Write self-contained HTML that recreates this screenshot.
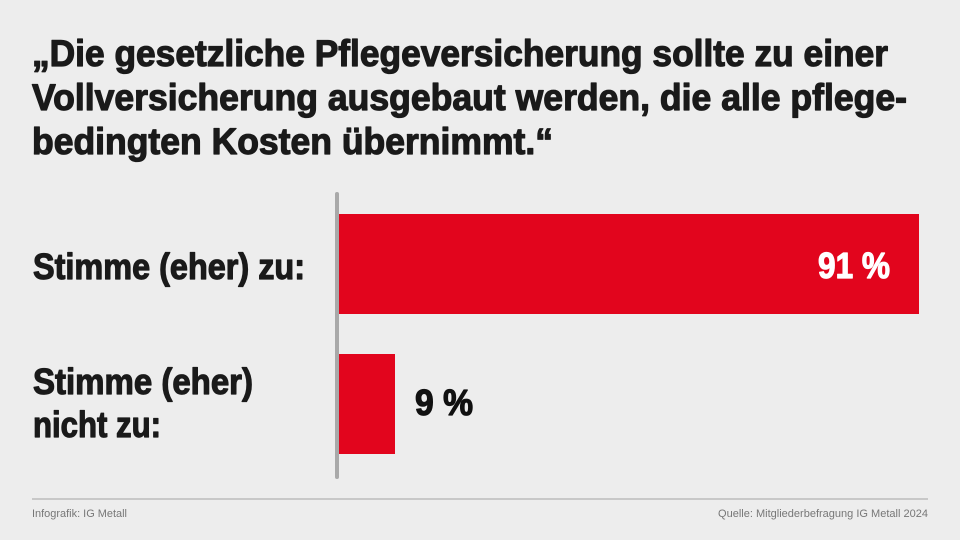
<!DOCTYPE html>
<html><head><meta charset="utf-8"><style>
html,body{margin:0;padding:0;background:#ededed;}
svg{display:block}
.t{font-family:"Liberation Sans Narrow","Liberation Sans",sans-serif;font-weight:bold;fill:#1a1a1a;stroke:#1a1a1a;stroke-width:1.2px;stroke-linejoin:round}
.f{font-family:"Liberation Sans Narrow","Liberation Sans",sans-serif;fill:#777;font-size:11px}
</style></head><body>
<svg width="960" height="540" viewBox="0 0 960 540" xmlns="http://www.w3.org/2000/svg">
<rect width="960" height="540" fill="#ededed"/>
<text class="t" font-size="37" x="32" y="66" textLength="856" lengthAdjust="spacingAndGlyphs">„Die gesetzliche Pflegeversicherung sollte zu einer</text>
<text class="t" font-size="37" x="32" y="110" textLength="875" lengthAdjust="spacingAndGlyphs">Vollversicherung ausgebaut werden, die alle pflege-</text>
<text class="t" font-size="37" x="32" y="154" textLength="521" lengthAdjust="spacingAndGlyphs">bedingten Kosten übernimmt.“</text>
<rect x="335" y="192" width="4" height="287" rx="2" fill="#a9a9a9"/>
<rect x="339" y="214" width="580" height="100" fill="#e2051d"/>
<rect x="339" y="354" width="56" height="100" fill="#e2051d"/>
<text class="t" font-size="36" x="33" y="279" textLength="272" lengthAdjust="spacingAndGlyphs">Stimme (eher) zu:</text>
<text class="t" font-size="36" x="33" y="394" textLength="220" lengthAdjust="spacingAndGlyphs">Stimme (eher)</text>
<text class="t" font-size="36" x="33" y="437" textLength="128" lengthAdjust="spacingAndGlyphs">nicht zu:</text>
<text class="t" font-size="36" x="818" y="278" textLength="72" lengthAdjust="spacingAndGlyphs" style="fill:#fff;stroke:#fff">91 %</text>
<text class="t" font-size="36" x="415" y="415" textLength="58" lengthAdjust="spacingAndGlyphs" style="fill:#111;stroke:#111">9 %</text>
<rect x="32" y="498" width="896" height="2" fill="#c8c8c8"/>
<text class="f" x="32" y="517" textLength="95" lengthAdjust="spacingAndGlyphs">Infografik: IG Metall</text>
<text class="f" x="928" y="517" text-anchor="end" textLength="210" lengthAdjust="spacingAndGlyphs">Quelle: Mitgliederbefragung IG Metall 2024</text>
</svg>
</body></html>
